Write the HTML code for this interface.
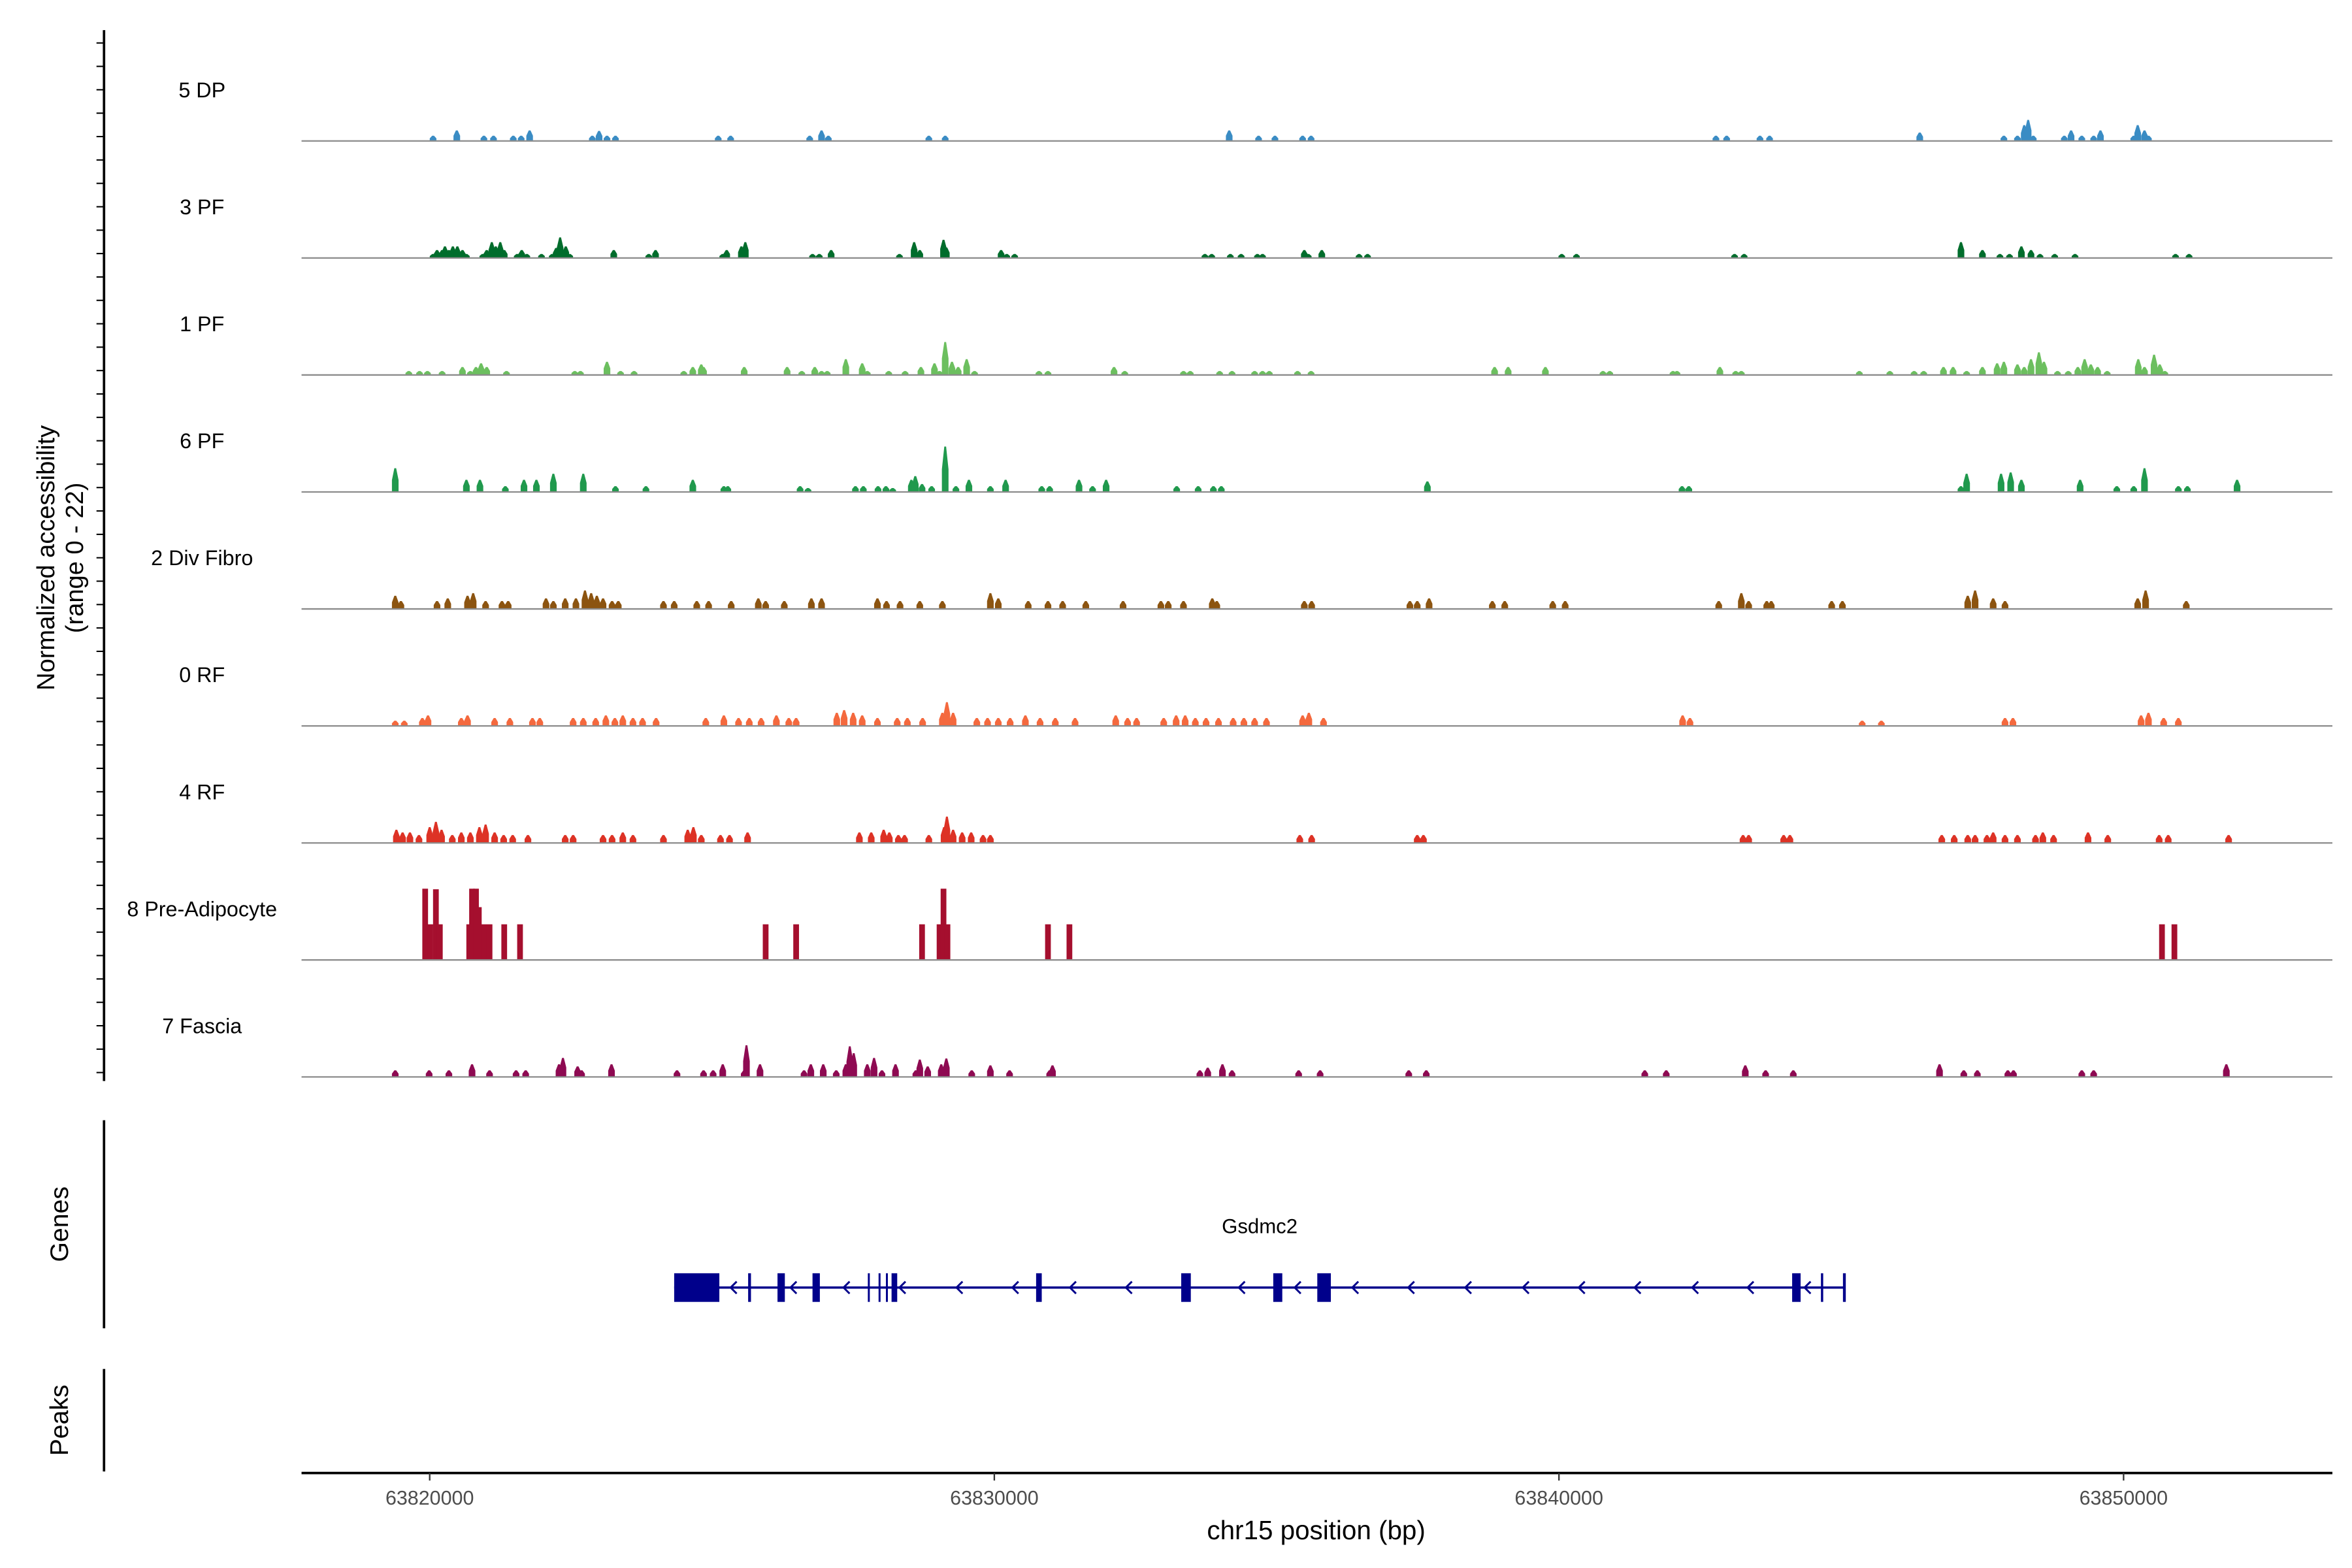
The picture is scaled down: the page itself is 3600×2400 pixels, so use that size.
<!DOCTYPE html>
<html><head><meta charset="utf-8">
<style>
html,body{margin:0;padding:0;background:#fff;}
svg{display:block;}
text{font-family:"Liberation Sans",Arial,sans-serif;}
</style></head>
<body>
<svg id="chart" width="3600" height="2400" viewBox="0 0 1560 1040" xmlns="http://www.w3.org/2000/svg">
<g id="axes"></g>
<g id="tracks"></g>
<g id="genes"></g>
</svg>
<script>
// ---- data (positions in kb on chr15, heights in normalized units) ----
const trackNames = ["5 DP","3 PF","1 PF","6 PF","2 Div Fibro","0 RF","4 RF","8 Pre-Adipocyte","7 Fascia"];
const trackColors = ["#3a8cc4","#006d2c","#6cbf5f","#20994d","#8c5410","#f4693e","#dd3225","#a50f2e","#8e0a52"];
const xTicks = [63820000,63830000,63840000,63850000];
const xTickLabels = ["63820000","63830000","63840000","63850000"];

const dpPos = [0.06,0.48,0.96,1.13,1.48,1.62,1.77,2.88,3.00,3.14,3.29,5.11,5.33,6.73,6.94,7.06,8.84,9.13,14.16,14.68,14.97,15.46,15.61,22.78,22.97,23.56,23.73,26.39,27.88,28.12,28.24,28.31,28.40,28.95,29.07,29.26,29.47,29.59,30.18,30.25,30.37,30.44];
const dpVal = [1,2,1,1,1,1,2,1,1.9,1,1,1,1,1,2,1,1,1,2,1,1,1,1,1,1,1,1,1.6,1,1,3,4,1,1,2,1,1,2,1,3,2,1];

const pf3Pos = [0.06,0.13,0.22,0.27,0.34,0.41,0.49,0.58,0.65,0.94,1.01,1.10,1.17,1.25,1.32,1.55,1.63,1.72,1.98,2.17,2.24,2.31,2.41,2.48,3.26,3.88,4.0,5.19,5.26,5.52,5.59,6.78,6.90,7.11,8.32,8.58,8.68,9.10,9.15,10.12,10.22,10.36,13.73,13.85,14.18,14.37,14.66,14.75,15.49,15.56,15.80,16.46,16.61,20.05,20.31,23.11,23.28,27.12,27.50,27.81,27.98,28.19,28.36,28.52,28.78,29.14,30.92,31.16];
const pf3Val = [0.75,1.5,1.5,2.2,1.5,2.2,2.2,1.5,0.75,0.75,1.5,3,2.2,3,1.5,0.75,1.5,0.75,0.75,0.75,1.9,3.9,2.2,0.75,1.5,0.75,1.5,0.75,1.5,2.2,3,0.75,0.75,1.5,0.75,3,1.5,3.45,2,1.5,0.75,0.75,0.75,0.75,0.75,0.75,0.75,0.75,1.5,0.75,1.5,0.75,0.75,0.75,0.75,0.75,0.75,3,1.5,0.75,0.75,2.2,1.5,0.75,0.75,0.75,0.75,0.75];

const pf1Pos = [-0.37,-0.18,-0.04,0.22,0.58,0.72,0.82,0.91,1.01,1.36,2.57,2.67,3.14,3.38,3.62,4.50,4.66,4.81,4.85,5.57,6.33,6.59,6.82,6.94,7.04,7.37,7.66,7.75,8.13,8.42,8.70,8.94,9.03,9.13,9.25,9.36,9.51,9.65,10.79,10.95,12.12,12.31,13.35,13.47,13.99,14.21,14.61,14.75,14.87,15.37,15.61,18.86,19.10,19.76,20.78,20.90,22.02,22.09,22.85,23.13,23.23,25.32,25.86,26.29,26.46,26.81,26.98,27.22,27.50,27.76,27.88,28.12,28.24,28.36,28.50,28.59,28.83,29.02,29.19,29.31,29.42,29.54,29.71,30.26,30.37,30.54,30.64,30.73];
const pf1Val = [0.75,0.75,0.75,0.75,1.5,0.75,1.5,2.2,1.5,0.75,0.75,0.75,2.5,0.75,0.75,0.75,1.5,2,1.5,1.5,1.5,0.75,1.5,0.75,0.75,3,2.2,0.75,0.75,0.75,1.5,2.2,0.75,6.25,2.5,1.5,3,0.75,0.75,0.75,1.5,0.75,0.75,0.75,0.75,0.75,0.75,0.75,0.75,0.75,0.75,1.5,1.5,1.5,0.75,0.75,0.75,0.75,1.5,0.75,0.75,0.75,0.75,0.75,0.75,1.5,1.5,0.75,1.5,2.2,2.5,2,1.5,3,4.3,2.5,0.75,0.75,1.5,3,2,1.5,0.75,3,1.5,3.85,2,0.75];

const pf6Pos = [-0.61,0.65,0.89,1.34,1.67,1.89,2.19,2.72,3.29,3.83,4.66,5.21,5.28,6.56,6.70,7.54,7.68,7.94,8.08,8.20,8.53,8.60,8.72,8.89,9.13,9.32,9.55,9.93,10.20,10.84,10.98,11.50,11.74,11.98,13.23,13.61,13.88,14.02,17.67,22.18,22.30,27.12,27.22,27.83,28.00,28.19,29.23,29.88,30.18,30.37,30.97,31.13,32.01];
const pf6Val = [4.5,2.3,2.3,1.1,2.3,2.3,3.45,3.45,1.1,1.1,2.3,1.1,1.1,1.1,0.75,1.1,1.1,1.1,1.1,0.75,2.3,3,1.5,1.1,8.6,1.1,2.3,1.1,2.3,1.1,1.1,2.3,1.1,2.3,1.1,1.1,1.1,1.1,2,1.1,1.1,1.1,3.45,3.45,3.7,2.3,2.3,1.1,1.1,4.5,1.1,1.1,2.3];

const divPos = [-0.61,-0.51,0.13,0.32,0.67,0.77,0.99,1.28,1.39,2.06,2.19,2.40,2.59,2.75,2.86,2.96,3.07,3.23,3.34,4.14,4.33,4.73,4.94,5.34,5.82,5.95,6.28,6.76,6.94,7.93,8.09,8.33,8.68,9.08,9.93,10.07,10.60,10.95,11.21,11.62,12.28,12.95,13.08,13.35,13.86,13.94,15.49,15.62,17.36,17.49,17.70,18.82,19.04,19.89,20.11,22.83,23.23,23.36,23.68,23.76,24.83,25.02,27.24,27.37,27.69,27.90,30.25,30.39,31.11];
const divVal = [2.5,1.5,1.5,2,2.5,3,1.5,1.5,1.5,2,1.5,2,2,3.5,3,2.5,2,1.5,1.5,1.5,1.5,1.5,1.5,1.5,2,1.5,1.5,2,2,2,1.5,1.5,1.5,1.5,3,2,1.5,1.5,1.5,1.5,1.5,1.5,1.5,1.5,2,1.5,1.5,1.5,1.5,1.5,2,1.5,1.5,1.5,1.5,1.5,3,1.5,1.5,1.5,1.5,1.5,2.5,3.5,2,1.5,2,3.5,1.5];

const rf0Pos = [-0.61,-0.45,-0.13,-0.03,0.56,0.67,1.15,1.42,1.82,1.95,2.54,2.72,2.94,3.12,3.28,3.42,3.60,3.77,4.01,4.89,5.21,5.47,5.66,5.87,6.14,6.36,6.49,7.21,7.34,7.50,7.66,7.93,8.28,8.46,8.73,9.08,9.16,9.27,9.69,9.88,10.07,10.28,10.55,10.81,11.08,11.43,12.15,12.36,12.52,13.0,13.22,13.38,13.56,13.75,13.97,14.23,14.42,14.61,14.82,15.46,15.57,15.83,22.19,22.32,25.37,25.71,27.90,28.04,30.31,30.44,30.71,30.97];
const rf0Val = [1,1,1.5,2,1.5,2,1.5,1.5,1.5,1.5,1.5,1.5,1.5,2,1.5,2,1.5,1.5,1.5,1.5,2,1.5,1.5,1.5,2,1.5,1.5,2.5,3,2.5,2,1.5,1.5,1.5,1.5,2.5,4.5,2.5,1.5,1.5,1.5,1.5,2,1.5,1.5,1.5,2,1.5,1.5,1.5,2,2,1.5,1.5,1.5,1.5,1.5,1.5,1.5,2,2.5,1.5,2,1.5,1,1,1.5,1.5,2,2.5,1.5,1.5];

const rf4Pos = [-0.59,-0.48,-0.35,-0.19,0,0.11,0.21,0.40,0.56,0.72,0.88,0.99,1.15,1.31,1.47,1.74,2.40,2.54,3.07,3.23,3.42,3.60,4.14,4.57,4.67,4.81,5.15,5.31,5.63,7.61,7.82,8.04,8.14,8.30,8.41,8.84,9.11,9.16,9.27,9.43,9.59,9.80,9.93,15.41,15.62,17.49,17.60,23.26,23.36,23.98,24.09,26.78,27.0,27.24,27.37,27.58,27.69,27.90,28.12,28.44,28.57,28.76,29.37,29.72,30.63,30.79,31.86];
const rf4Val = [2.5,2,2,1.5,3,4,2.5,1.5,2,2,3,3.5,2,1.5,1.5,1.5,1.5,1.5,1.5,1.5,2,1.5,1.5,2.5,3,1.5,1.5,1.5,2,2,2,2.5,2,1.5,1.5,1.5,3,5,2.5,2,2,1.5,1.5,1.5,1.5,1.5,1.5,1.5,1.5,1.5,1.5,1.5,1.5,1.5,1.5,1.5,2,1.5,1.5,1.5,2,1.5,2,1.5,1.5,1.5,1.5];

const preadPos = [-0.08,0.01,0.11,0.18,0.70,0.75,0.82,0.87,0.96,1.06,1.32,1.60,5.95,6.49,8.72,9.03,9.10,9.17,10.95,11.33,30.68,30.90];
const preadVal = [13.5,6.75,13.4,6.75,6.75,13.5,13.5,10,6.75,6.75,6.75,6.75,6.75,6.75,6.75,6.75,13.5,6.75,6.75,6.75,6.75,6.75];

const fasPos = [-0.61,-0.01,0.34,0.75,1.06,1.53,1.70,2.29,2.36,2.62,2.69,3.22,4.38,4.85,5.02,5.19,5.57,5.61,5.85,6.63,6.75,6.97,7.20,7.37,7.44,7.51,7.75,7.87,8.01,8.25,8.61,8.68,8.82,9.06,9.15,9.60,9.93,10.27,10.98,11.03,13.64,13.78,14.04,14.21,15.39,15.77,17.34,17.65,21.52,21.90,23.30,23.66,24.15,26.74,27.17,27.41,27.95,28.05,29.26,29.47,31.82];
const fasVal = [1.25,1.25,1.25,2.4,1.25,1.25,1.25,2.4,3.6,2,1.25,2.4,1.25,1.25,1.25,2.4,1.25,6,2.4,1.25,2.4,2.4,1.25,2.4,5.8,4.5,2.4,3.6,1.25,2.4,1.25,3.3,2,2.4,3.5,1.25,2.2,1.25,1.25,2.2,1.25,1.75,2.4,1.25,1.25,1.25,1.25,1.25,1.25,1.25,2.2,1.25,1.25,2.4,1.25,1.25,1.25,1.25,1.25,1.25,2.4];

const trackPos = [dpPos,pf3Pos,pf1Pos,pf6Pos,divPos,rf0Pos,rf4Pos,preadPos,fasPos];
const trackVal = [dpVal,pf3Val,pf1Val,pf6Val,divVal,rf0Val,rf4Val,preadVal,fasVal];

const geneName = "Gsdmc2";
const geneStart = 4.33, geneEnd = 25.07;
const exonStarts = [4.33,5.64,6.16,6.78,7.76,7.95,8.08,8.18,10.74,13.31,14.94,15.72,24.13,24.64,25.03];
const exonEnds   = [5.13,5.69,6.29,6.91,7.79,7.98,8.11,8.28,10.84,13.48,15.10,15.96,24.28,24.68,25.08];
const arrowPos = [5.37,6.43,7.37,8.36,9.37,10.36,11.38,12.37,14.37,15.36,16.38,17.37,18.38,19.40,20.39,21.38,22.40,23.38,24.39];

// ---- scales ----
const ORIGIN = 63820; // kb
function xScale(kb){ return 285 + (kb) * 37.45; }
function xScaleBp(bp){ return 285 + (bp/1000 - ORIGIN) * 37.45; }
const baseY0 = 93.5, trackStep = 77.6, unitPx = 3.5;
function yScale(i, v){ return baseY0 + i*trackStep - v*unitPx; }

const NS = "http://www.w3.org/2000/svg";
function mk(tag, parent){ const e = document.createElementNS(NS, tag); parent.appendChild(e); return e; }

const axes = document.getElementById('axes');
const tracks = document.getElementById('tracks');
const genes = document.getElementById('genes');

// y axis
let l = mk('line', axes);


l.setAttribute('x1',69); l.setAttribute('x2',69); l.setAttribute('y1',20); l.setAttribute('y2',717);
l.setAttribute('stroke','#000'); l.setAttribute('stroke-width',1.6);
for (let y = 28.5; y <= 717; y += trackStep/5) {
  const t = mk('line', axes);
  
  
  t.setAttribute('x1',64); t.setAttribute('x2',69); t.setAttribute('y1',y); t.setAttribute('y2',y);
  t.setAttribute('stroke','#000'); t.setAttribute('stroke-width',0.9);
}
const yt = mk('text', axes);


yt.setAttribute('transform','translate(36,370) rotate(-90)');
yt.setAttribute('text-anchor','middle'); yt.setAttribute('font-size',16.5);
yt.innerHTML = '<tspan x="0" dy="0">Normalized accessibility</tspan><tspan x="0" dy="19">(range 0 - 22)</tspan>';

// genes / peaks axes
[[743,881,'Genes',812,'genes-axis-line','genes-axis-title'],[908,976,'Peaks',942,'peaks-axis-line','peaks-axis-title']].forEach(a=>{
  const ln = mk('line', axes);
  
  
  ln.setAttribute('x1',69); ln.setAttribute('x2',69); ln.setAttribute('y1',a[0]); ln.setAttribute('y2',a[1]);
  ln.setAttribute('stroke','#000'); ln.setAttribute('stroke-width',1.6);
  const tx = mk('text', axes);
  
  
  tx.setAttribute('transform','translate(45,'+a[3]+') rotate(-90)');
  tx.setAttribute('text-anchor','middle'); tx.setAttribute('font-size',17);
  tx.textContent = a[2];
});

// x axis
const xa = mk('line', axes);


xa.setAttribute('x1',200); xa.setAttribute('x2',1547); xa.setAttribute('y1',977); xa.setAttribute('y2',977);
xa.setAttribute('stroke','#000'); xa.setAttribute('stroke-width',1.6);
xTicks.forEach((v,i)=>{
  const x = xScaleBp(v);
  const t = mk('line', axes);
  
  
  t.setAttribute('x1',x); t.setAttribute('x2',x); t.setAttribute('y1',977); t.setAttribute('y2',982);
  t.setAttribute('stroke','#333'); t.setAttribute('stroke-width',1);
  const tl = mk('text', axes);
  
  
  tl.setAttribute('x',x); tl.setAttribute('y',998); tl.setAttribute('text-anchor','middle');
  tl.setAttribute('font-size',13.2); tl.setAttribute('fill','#4d4d4d');
  tl.textContent = xTickLabels[i];
});
const xt = mk('text', axes);


xt.setAttribute('x',873); xt.setAttribute('y',1021); xt.setAttribute('text-anchor','middle'); xt.setAttribute('font-size',17.5);
xt.textContent = 'chr15 position (bp)';

// tracks
trackNames.forEach((name,i)=>{
  const g = mk('g', tracks);
  
  
  const base = yScale(i,0);
  const lab = mk('text', g);
  
  
  lab.setAttribute('x',134); lab.setAttribute('y',base-29); lab.setAttribute('text-anchor','middle'); lab.setAttribute('font-size',14);
  lab.textContent = name;
  const pos = trackPos[i], val = trackVal[i], col = trackColors[i];
  const isBar = (i === 7);
  pos.forEach((p,j)=>{
    const x = xScale(p), top = yScale(i,val[j]);
    const h = base - top;
    const m = mk('path', g);
    
    
    let d;
    if (isBar) {
      d = `M${x-1.9},${base}L${x-1.9},${top}L${x+1.9},${top}L${x+1.9},${base}Z`;
    } else {
      d = `M${x-2.2},${base}L${x-2.2},${base-h*0.5}L${x-0.6},${top}L${x+0.6},${top}L${x+2.2},${base-h*0.5}L${x+2.2},${base}Z`;
    }
    m.setAttribute('d', d); m.setAttribute('fill', col);
  });
  const bl = mk('line', g);
  
  
  bl.setAttribute('x1',200); bl.setAttribute('x2',1547); bl.setAttribute('y1',base); bl.setAttribute('y2',base);
  bl.setAttribute('stroke','#8c8c8c'); bl.setAttribute('stroke-width',1);
});

// gene model
const gy = 854;
const gl = mk('text', genes);


gl.setAttribute('x', xScale((geneStart+geneEnd)/2)); gl.setAttribute('y',818); gl.setAttribute('text-anchor','middle'); gl.setAttribute('font-size',13.5);
gl.textContent = geneName;
const intr = mk('line', genes);


intr.setAttribute('x1', xScale(geneStart)); intr.setAttribute('x2', xScale(geneEnd)); intr.setAttribute('y1',gy); intr.setAttribute('y2',gy);
intr.setAttribute('stroke','#00008b'); intr.setAttribute('stroke-width',1.5);
exonStarts.forEach((s,k)=>{
  const r = mk('rect', genes);
  
  
  const x1 = xScale(s), x2 = xScale(exonEnds[k]);
  r.setAttribute('x', x1); r.setAttribute('width', Math.max(1.3, x2-x1)); r.setAttribute('y', gy-9.5); r.setAttribute('height', 19);
  r.setAttribute('fill','#00008b');
});
arrowPos.forEach(p=>{
  const x = xScale(p);
  const a = mk('path', genes);
  
  
  a.setAttribute('d', `M${x+2.5},${gy-4}L${x-1.5},${gy}L${x+2.5},${gy+4}`);
  a.setAttribute('fill','none'); a.setAttribute('stroke','#00008b'); a.setAttribute('stroke-width',1.3);
});
</script>
</body></html>
